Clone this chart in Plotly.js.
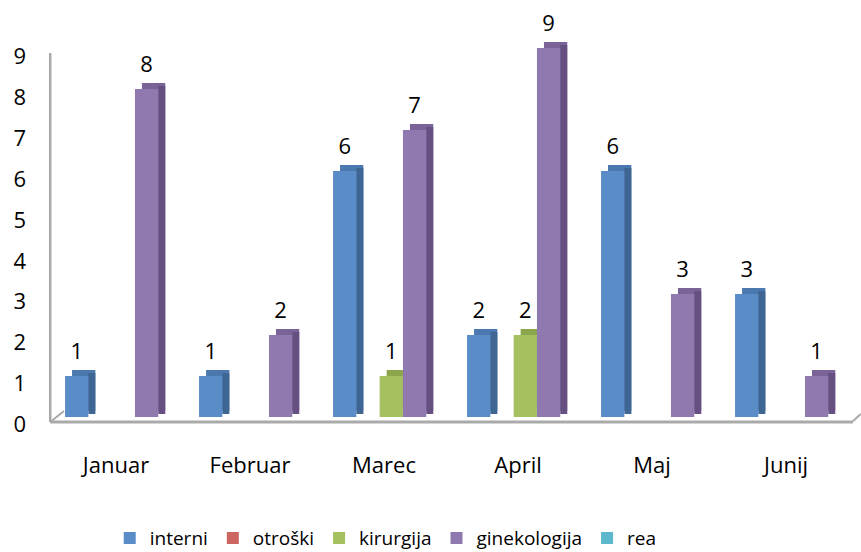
<!DOCTYPE html>
<html>
<head>
<meta charset="utf-8">
<script src="https://cdn.plot.ly/plotly-3.0.1.min.js"></script>
<style>html,body{margin:0;padding:0;background:#fff;}#chart{width:861px;height:552px;}</style>
</head>
<body>
<div id="chart"></div>
<script>
// ---- data ----
const categories = ['Januar', 'Februar', 'Marec', 'April', 'Maj', 'Junij'];
const seriesNames = ['interni', 'otroški', 'kirurgija', 'ginekologija', 'rea'];
const interni = [1, 1, 6, 2, 6, 3];
const otroski = [0, 0, 0, 0, 0, 0];
const kirurgija = [0, 0, 1, 2, 0, 0];
const ginekologija = [8, 2, 7, 9, 3, 1];
const rea = [0, 0, 0, 0, 0, 0];
const yTickVals = [0, 1, 2, 3, 4, 5, 6, 7, 8, 9];

// ---- style ----
const frontColors = ['#5A8DC8', '#CD6660', '#A5C15F', '#9079AE', '#5DB8CE'];
const topColors   = ['#4B78AE', '#AE504C', '#8CA64E', '#7A6497', '#4A9DB2'];
const sideColors  = ['#3F6592', '#8E3F3B', '#758A40', '#655081', '#3A8295'];
const FONT = '"Open Sans", "DejaVu Sans", sans-serif';

const values = [interni, otroski, kirurgija, ginekologija, rea];
const xIdx = categories.map((c, i) => i);

const W = 23.3 / 134;        // bar width in category units
const SHIFT = 7.3 / 134;     // group shift right of category centre
const DX = 7 / 134;          // depth offset (x)
const DY = 6 / 41;           // depth offset (y)

const traces = [];
values.forEach((vals, s) => {
  const start = -2.5 * W + SHIFT + s * W;
  const common = {type: 'bar', x: xIdx, xaxis: 'x', yaxis: 'y2', hoverinfo: 'skip', showlegend: false};
  // top face (back)
  traces.push(Object.assign({}, common, {
    y: vals, base: DY, offset: start + DX, width: W,
    marker: {color: topColors[s], line: {width: 0}}
  }));
  // side face
  traces.push(Object.assign({}, common, {
    y: vals, base: DY / 2, offset: start + W, width: DX,
    marker: {color: sideColors[s], line: {width: 0}}
  }));
  // front face (legend entry)
  traces.push(Object.assign({}, common, {
    y: vals, base: 0, offset: start, width: W,
    name: seriesNames[s], showlegend: true,
    marker: {color: frontColors[s], line: {width: 0}}
  }));
});
// data labels (transparent carriers)
values.forEach((vals, s) => {
  const start = -2.5 * W + SHIFT + s * W;
  traces.push({
    type: 'bar', x: xIdx, y: vals, base: 0.2, offset: start, width: W,
    xaxis: 'x', yaxis: 'y2', hoverinfo: 'skip', showlegend: false,
    marker: {color: 'rgba(0,0,0,0)', line: {width: 0}},
    text: vals.map(v => v > 0 ? String(v) : ''),
    textposition: 'outside', cliponaxis: false, constraintext: 'none',
    textfont: {family: FONT, size: 22, color: '#000'},
    outsidetextfont: {family: FONT, size: 22, color: '#000'}
  });
});

const lineColor = '#AAAAAA';
const layout = {
  width: 861, height: 552,
  margin: {l: 49, r: 8, t: 0, b: 122},
  paper_bgcolor: '#fff', plot_bgcolor: 'rgba(0,0,0,0)',
  barmode: 'overlay',
  font: {family: FONT, color: '#000'},
  xaxis: {
    range: [-0.5, 5.5], tickmode: 'array', tickvals: xIdx, ticktext: categories,
    showgrid: false, zeroline: false, showline: false, ticks: '',
    ticklabelstandoff: 20, tickfont: {family: FONT, size: 22, color: '#000'}
  },
  yaxis: {
    range: [-0.147, 10.392], tickmode: 'array', tickvals: yTickVals,
    showgrid: false, zeroline: false, showline: false, ticks: '',
    ticklabelstandoff: 22, tickfont: {family: FONT, size: 22, color: '#000'}
  },
  yaxis2: {
    range: [-0.317, 10.171], overlaying: 'y', visible: false, showgrid: false, zeroline: false
  },
  legend: {
    orientation: 'h', xref: 'container', yref: 'container',
    x: 0.448, xanchor: 'center', y: 0.025, yanchor: 'middle',
    font: {family: FONT, size: 19, color: '#000'}, traceorder: 'normal',
    itemclick: false
  },
  shapes: [
    {type: 'line', xref: 'paper', yref: 'y', x0: 0.0015, x1: 0.0015, y0: 0.05, y1: 9.09, line: {color: lineColor, width: 2.5}, layer: 'below'},
    {type: 'line', xref: 'paper', yref: 'y', x0: 0.0015, x1: 1, y0: 0.05, y1: 0.05, line: {color: lineColor, width: 3}, layer: 'below'},
    {type: 'line', xref: 'paper', yref: 'y', x0: 0.0015, x1: 0.0187, y0: 0.05, y1: 0.32, line: {color: lineColor, width: 2}, layer: 'below'},
    {type: 'line', xref: 'paper', yref: 'y', x0: 1, x1: 1.0099, y0: 0.07, y1: 0.25, line: {color: lineColor, width: 2}, layer: 'below'}
  ]
};

Plotly.newPlot('chart', traces, layout, {displayModeBar: false, staticPlot: true});
</script>
</body>
</html>
